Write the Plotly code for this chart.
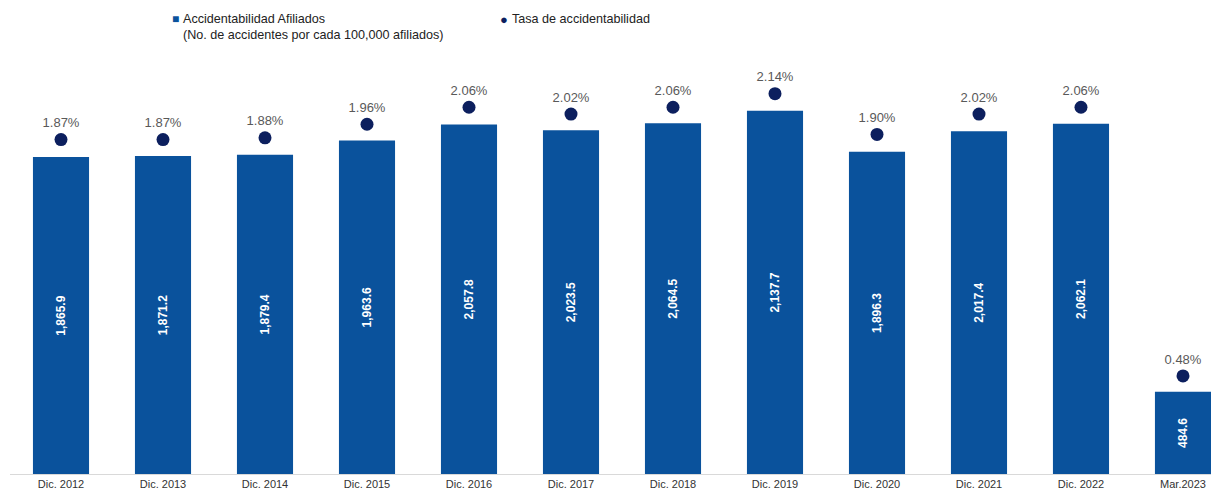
import plotly.graph_objects as go

categories = ["Dic. 2012", "Dic. 2013", "Dic. 2014", "Dic. 2015", "Dic. 2016", "Dic. 2017",
              "Dic. 2018", "Dic. 2019", "Dic. 2020", "Dic. 2021", "Dic. 2022", "Mar.2023"]
accidentabilidad = [1865.9, 1871.2, 1879.4, 1963.6, 2057.8, 2023.5,
                    2064.5, 2137.7, 1896.3, 2017.4, 2062.1, 484.6]
tasa = [1.87, 1.87, 1.88, 1.96, 2.06, 2.02, 2.06, 2.14, 1.90, 2.02, 2.06, 0.48]

bar_labels = [f"{v:,.1f}" for v in accidentabilidad]
rate_labels = [f"{v:.2f}%" for v in tasa]

BAR_COLOR = "#0a529c"
DOT_COLOR = "#0c1f5e"
FONT = "Liberation Sans, Arial, sans-serif"

fig = go.Figure()
fig.add_trace(go.Bar(
    x=categories, y=accidentabilidad, marker=dict(color=BAR_COLOR, line=dict(width=0)),
    width=0.55, text=bar_labels, textposition="inside", insidetextanchor="middle",
    textangle=-90, textfont=dict(color="white", size=12, family=FONT, weight="bold"),
    showlegend=False, hoverinfo="x+y", cliponaxis=False,
))
fig.add_trace(go.Scatter(
    x=categories, y=tasa, yaxis="y2", mode="markers+text",
    marker=dict(color=DOT_COLOR, size=13), text=rate_labels, textposition="top center",
    textfont=dict(color="#595959", size=13, family=FONT), showlegend=False, cliponaxis=False,
))

# page body has an 8px margin; figure occupies the rest of the window
OFF = 8
W, H = 1219 - OFF, 492 - OFF
L, R, T, B = 10 - OFF, 0, 60 - OFF, 18
pw, ph = W - L - R, H - T - B

def px(x):
    return (x - OFF - L) / pw

def py(y):
    return (H - B - (y - OFF)) / ph

annotations = [
    dict(x=px(175), y=py(19), xref="paper", yref="paper", text="■", showarrow=False,
         font=dict(color=BAR_COLOR, size=12, family=FONT), xanchor="center", yanchor="middle"),
    dict(x=px(181), y=py(26.5), xref="paper", yref="paper",
         text="Accidentabilidad Afiliados<br>(No. de accidentes por cada 100,000 afiliados)",
         showarrow=False, align="left", font=dict(color="#222222", size=12.6, family=FONT),
         xanchor="left", yanchor="middle"),
    dict(x=px(504), y=py(19), xref="paper", yref="paper", text="●", showarrow=False,
         font=dict(color=DOT_COLOR, size=13, family=FONT), xanchor="center", yanchor="middle"),
    dict(x=px(510), y=py(19), xref="paper", yref="paper", text="Tasa de accidentabilidad",
         showarrow=False, font=dict(color="#222222", size=12.6, family=FONT),
         xanchor="left", yanchor="middle"),
]

fig.update_layout(
    width=W, height=H, margin=dict(l=L, r=R, t=T, b=B),
    paper_bgcolor="white", plot_bgcolor="white",
    font=dict(family=FONT, color="#333333"),
    xaxis=dict(range=[-0.5, 11.353], showgrid=False, showline=True, linecolor="#d9d9d9",
               linewidth=1, ticks="", tickfont=dict(size=11, color="#333333"), automargin=False),
    yaxis=dict(range=[0, 2437], visible=False, showgrid=False, zeroline=False),
    yaxis2=dict(range=[-0.097, 2.338], overlaying="y", visible=False, showgrid=False,
                zeroline=False),
    annotations=annotations,
    bargap=0.45,
)

fig.write_html("out.html")
